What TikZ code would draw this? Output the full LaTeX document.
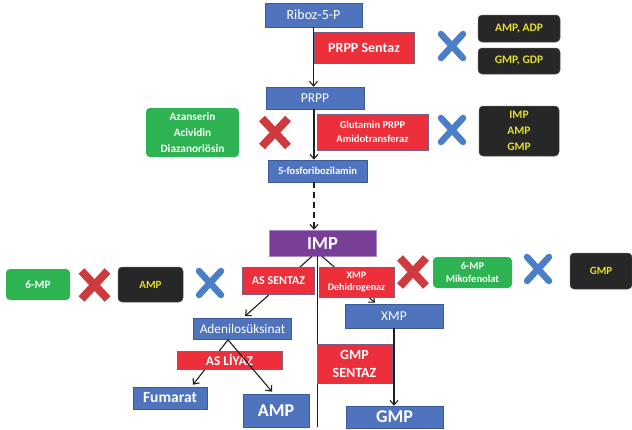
\documentclass[tikz,border=0pt]{standalone}
\usepackage{fontspec}
\setmainfont{Carlito}
\usetikzlibrary{arrows.meta}
\definecolor{bboxc}{HTML}{4F73BD}
\definecolor{bboxd}{HTML}{3A5A9A}
\definecolor{rboxc}{HTML}{EC2F3A}
\definecolor{rboxd}{HTML}{7A5E86}
\definecolor{gboxc}{HTML}{2DB352}
\definecolor{kboxc}{HTML}{272727}
\definecolor{kboxd}{HTML}{5A5A5A}
\definecolor{ytext}{HTML}{E6DF2C}
\definecolor{pboxc}{HTML}{793E98}
\definecolor{pboxd}{HTML}{A98BC6}
\definecolor{xblue}{HTML}{4A7EC7}
\definecolor{xred}{HTML}{CF3A3F}
\definecolor{lineC}{HTML}{1E1E1E}
\tikzset{
  x=1pt, y=-1pt,
  bluebox/.style={fill=bboxc, draw=bboxd, line width=0.6pt, text=white, inner sep=0pt, align=center},
  redbox/.style={fill=rboxc, draw=rboxd, line width=0.5pt, text=white, inner sep=0pt, align=center, font=\bfseries},
  greenbox/.style={fill=gboxc, rounded corners=4pt, text=white, inner sep=0pt, align=center, font=\bfseries},
  blackbox/.style={fill=kboxc, draw=kboxd, line width=0.5pt, rounded corners=4pt, text=ytext, inner sep=0pt, align=center, font=\bfseries},
  purplebox/.style={fill=pboxc, draw=pboxd, line width=0.6pt, text=white, inner sep=0pt, align=center, font=\bfseries},
  sz/.style 2 args={minimum width=#1, minimum height=#2},
  conn/.style={draw=lineC, line width=1.1pt, -{Straight Barb[length=4.5pt,width=8pt,line width=1.1pt]}},
  bluex/.pic={\draw[xblue, line width=6.5pt, line cap=round] (-11,-12) -- (11,12) (-11,12) -- (11,-12);},
  redx/.pic={\draw[xred, line width=8pt, line cap=butt] (-13,-14) -- (13,14) (-13,14) -- (13,-14);}
}
\newcommand{\fsz}[1]{\fontsize{#1}{#1}\selectfont}
\begin{document}
\begin{tikzpicture}
\useasboundingbox (0,0) rectangle (632,429);
\fill[white] (0,0) rectangle (632,429);

\coordinate (vbot) at (317,427);

% boxes that connectors end on
\node[purplebox, sz={107}{26}, font=\bfseries\fsz{18.5}] (imp) at (322.5,243) {IMP};
\node[bluebox, sz={98}{21}, font=\fsz{13.3}] (aden) at (242.5,329) {Adenilosüksinat};
\node[bluebox, sz={98}{24}, font=\fsz{13.5}] (xmp) at (394,316) {XMP};
\node[bluebox, sz={74}{22}, font=\bfseries\fsz{15.5}] (fum) at (170,398) {Fumarat};
\node[bluebox, sz={66}{33}, font=\bfseries\fsz{18}] (ampB) at (276,410.5) {AMP};
\node[bluebox, sz={97}{22}, font=\bfseries\fsz{18}] (gmpB) at (394.5,417) {GMP};

\draw[conn] ([xshift=-10.5pt]imp.south) -- ([xshift=2.5pt,yshift=2pt]aden.north);
\draw[conn] ([xshift=-0.5pt]imp.south) -- ([xshift=-19pt,yshift=1pt]xmp.north);
\draw[conn] ([xshift=-14.5pt]aden.south) -- ([xshift=23pt,yshift=2pt]fum.north);
\draw[draw=lineC, line width=0.9pt] (imp.south -| vbot) -- (vbot);

% top column
\node[bluebox, sz={97}{24}, font=\fsz{14}] (rib) at (313.5,15) {Riboz-5-P};
\node[bluebox, sz={98}{22}, font=\fsz{13.5}] (prpp) at (315,98) {PRPP};
\node[bluebox, sz={99}{22}, font=\bfseries\fsz{10.5}] (fos) at (317.5,171) {5-fosforibozilamin};

\draw[conn] (rib.south) -- (rib.south |- prpp.north);
\draw[conn] ([xshift=-1pt]prpp.south) -- ([xshift=-1pt]prpp.south |- fos.north);
\draw[conn, dash pattern=on 6pt off 4pt] ([xshift=-3.5pt]fos.south) -- ([xshift=-3.5pt]fos.south |- imp.north);

\node[redbox, sz={100}{31}, font=\bfseries\fsz{14}] (prs) at (364,47.5) {PRPP Sentaz};
\node[redbox, sz={111}{36}, font=\bfseries\fsz{10.5}] (glu) at (372.5,132) {Glutamin PRPP\\[3pt]Amidotransferaz};
\node[redbox, sz={72}{27}, font=\bfseries\fsz{12}] (ass) at (278.5,281) {AS SENTAZ};
\node[redbox, sz={75}{30}, font=\bfseries\fsz{10}] (xdh) at (356.5,282) {XMP\\[2.5pt]Dehidrogenaz};
\node[redbox, sz={105}{18}, font=\bfseries\fsz{13.4}] (asl) at (229.5,360) {AS L\.IYAZ};
\node[redbox, sz={75}{39}, font=\bfseries\fsz{14}] (gsen) at (354.5,363.5) {GMP\\[4pt]SENTAZ};

\draw[conn] ([xshift=-14.5pt]aden.south) -- ([xshift=-4pt,yshift=2pt]ampB.north);
\draw[conn] (xmp.south) -- (xmp.south |- gmpB.north);

% inhibitor boxes
\node[blackbox, sz={82}{27}, font=\bfseries\fsz{11.5}] (ampadp) at (519,28.5) {AMP, ADP};
\node[blackbox, sz={82}{26}, font=\bfseries\fsz{11.5}] (gmpgdp) at (519,61) {GMP, GDP};
\node[blackbox, sz={80}{50}, font=\bfseries\fsz{11.5}] (iag) at (519,131) {IMP\\[4.5pt]AMP\\[4.5pt]GMP};
\node[blackbox, sz={65}{35}, font=\bfseries\fsz{11}] (ampL) at (150.5,284.5) {AMP};
\node[blackbox, sz={62}{36}, font=\bfseries\fsz{11}] (gmpR) at (601,271) {GMP};

\node[greenbox, sz={93}{49}, font=\bfseries\fsz{11.3}] (aza) at (192.5,132.5) {Azanserin\\[4.5pt]Acividin\\[4.5pt]Diazanorlösin};
\node[greenbox, sz={64}{31}, font=\bfseries\fsz{11.3}] (mp6) at (38,284.5) {6-MP};
\node[greenbox, sz={79}{31}, font=\bfseries\fsz{10.5}] (mik) at (472.5,272.5) {6-MP\\[3pt]Mikofenolat};

% crosses
\pic at (452,46) {bluex};
\pic at (452,130) {bluex};
\pic at (538,269) {bluex};
\pic at (210,283) {bluex};
\pic at (275,132.5) {redx};
\pic at (413,272) {redx};
\pic at (94.5,285) {redx};
\end{tikzpicture}
\end{document}
